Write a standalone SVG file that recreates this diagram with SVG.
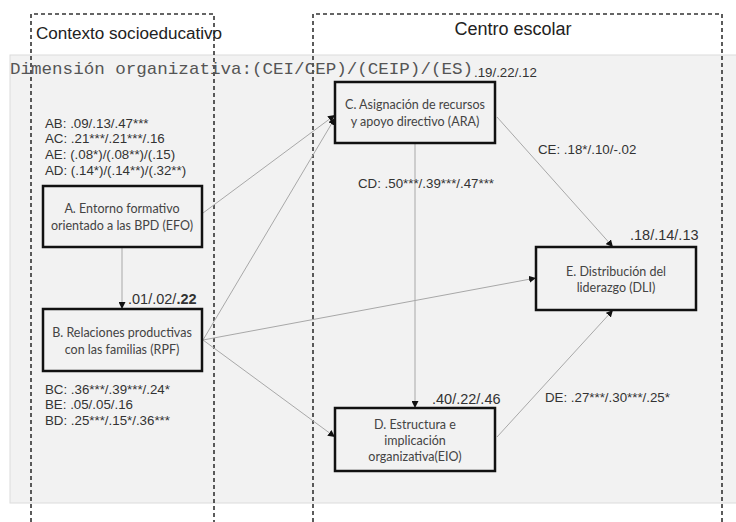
<svg xmlns="http://www.w3.org/2000/svg" width="736" height="522" viewBox="0 0 736 522">
<defs>
<style>
.frame{fill:none;stroke:#333;stroke-width:1.6;stroke-dasharray:4 3}
.node{fill:#f2f2f2;stroke:#111;stroke-width:2.5}
.nt{font-family:Lato,"Open Sans",sans-serif;font-size:12.5px;fill:#444;text-anchor:middle}
.lb{font-family:"Liberation Sans",Arial,sans-serif;font-size:13.3px;fill:#333}
.r2{font-family:"Liberation Sans",Arial,sans-serif;font-size:14.5px;fill:#333}
.edge{fill:none;stroke:#a8a8a8;stroke-width:1;marker-end:url(#ah)}
</style>
<marker id="ah" viewBox="0 0 10 10" refX="10" refY="5" markerWidth="7" markerHeight="7" markerUnits="userSpaceOnUse" orient="auto">
<path d="M0,0 L10,5 L0,10 z" fill="#111"/>
</marker>
</defs>
<rect x="0" y="0" width="736" height="522" fill="#fff"/>
<rect x="10" y="55" width="740" height="448" fill="#f2f2f2" stroke="#dcdcdc" stroke-width="1"/>
<g id="frame-contexto">
<path class="frame" d="M31,522 V14 H214 V522"/>
<text x="36" y="39" font-family="Liberation Sans,Arial,sans-serif" font-size="16" fill="#222" textLength="186" lengthAdjust="spacingAndGlyphs">Contexto socioeducativo</text>
</g>
<g id="frame-centro">
<path class="frame" d="M313,522 V14 H722 V522"/>
<text x="513" y="35" font-family="Liberation Sans,Arial,sans-serif" font-size="18" fill="#222" text-anchor="middle">Centro escolar</text>
</g>
<g id="title">
<text x="10" y="74" font-family="Liberation Mono,Courier New,monospace" font-size="17" fill="#555" textLength="463" lengthAdjust="spacingAndGlyphs">Dimensión organizativa:(CEI/CEP)/(CEIP)/(ES)</text>
<text x="474" y="77" class="lb" font-size="13.5">.19/.22/.12</text>
</g>
<g id="connectors">
<line class="edge" x1="122" y1="247" x2="122" y2="309"/>
<line class="edge" x1="203" y1="213" x2="335" y2="115"/>
<line class="edge" x1="203" y1="340" x2="335" y2="118"/>
<line class="edge" x1="203" y1="340" x2="536" y2="278"/>
<line class="edge" x1="203" y1="340" x2="335" y2="437"/>
<line class="edge" x1="415" y1="143" x2="415" y2="408"/>
<line class="edge" x1="497" y1="117" x2="613" y2="247"/>
<line class="edge" x1="497" y1="437" x2="613" y2="310"/>
</g>
<g id="node-A">
<rect class="node" x="43" y="186" width="159" height="61"/>
<text class="nt" x="122" y="213">A. Entorno formativo</text>
<text class="nt" x="122" y="230">orientado a las BPD (EFO)</text>
</g>
<g id="node-B">
<rect class="node" x="43" y="309" width="159" height="62"/>
<text class="nt" x="122" y="337">B. Relaciones productivas</text>
<text class="nt" x="122" y="354">con las familias (RPF)</text>
</g>
<g id="node-C">
<rect class="node" x="335" y="82" width="160" height="61"/>
<text class="nt" x="415" y="109">C. Asignación de recursos</text>
<text class="nt" x="415" y="126">y apoyo directivo (ARA)</text>
</g>
<g id="node-E">
<rect class="node" x="536" y="247" width="160" height="63"/>
<text class="nt" x="616" y="276">E. Distribución del</text>
<text class="nt" x="616" y="292">liderazgo (DLI)</text>
</g>
<g id="node-D">
<rect class="node" x="335" y="408" width="160" height="63"/>
<text class="nt" x="415" y="429">D. Estructura e</text>
<text class="nt" x="415" y="445">implicación</text>
<text class="nt" x="415" y="461">organizativa(EIO)</text>
</g>
<g id="labels">
<text class="lb" x="45" y="128">AB: .09/.13/.47***</text>
<text class="lb" x="45" y="143">AC: .21***/.21***/.16</text>
<text class="lb" x="45" y="159">AE: (.08*)/(.08**)/(.15)</text>
<text class="lb" x="45" y="175">AD: (.14*)/(.14**)/(.32**)</text>
<text class="r2" x="128" y="304">.01/.02/<tspan font-weight="bold">.22</tspan></text>
<text class="lb" x="45" y="394">BC: .36***/.39***/.24*</text>
<text class="lb" x="45" y="409">BE: .05/.05/.16</text>
<text class="lb" x="45" y="425">BD: .25***/.15*/.36***</text>
<text class="lb" x="538" y="154">CE: .18*/.10/-.02</text>
<text class="lb" x="358" y="188">CD: .50***/.39***/.47***</text>
<text class="r2" x="630" y="240">.18/.14/.13</text>
<text class="r2" x="432" y="404">.40/.22/.46</text>
<text class="lb" x="545" y="402">DE: .27***/.30***/.25*</text>
</g>
</svg>
